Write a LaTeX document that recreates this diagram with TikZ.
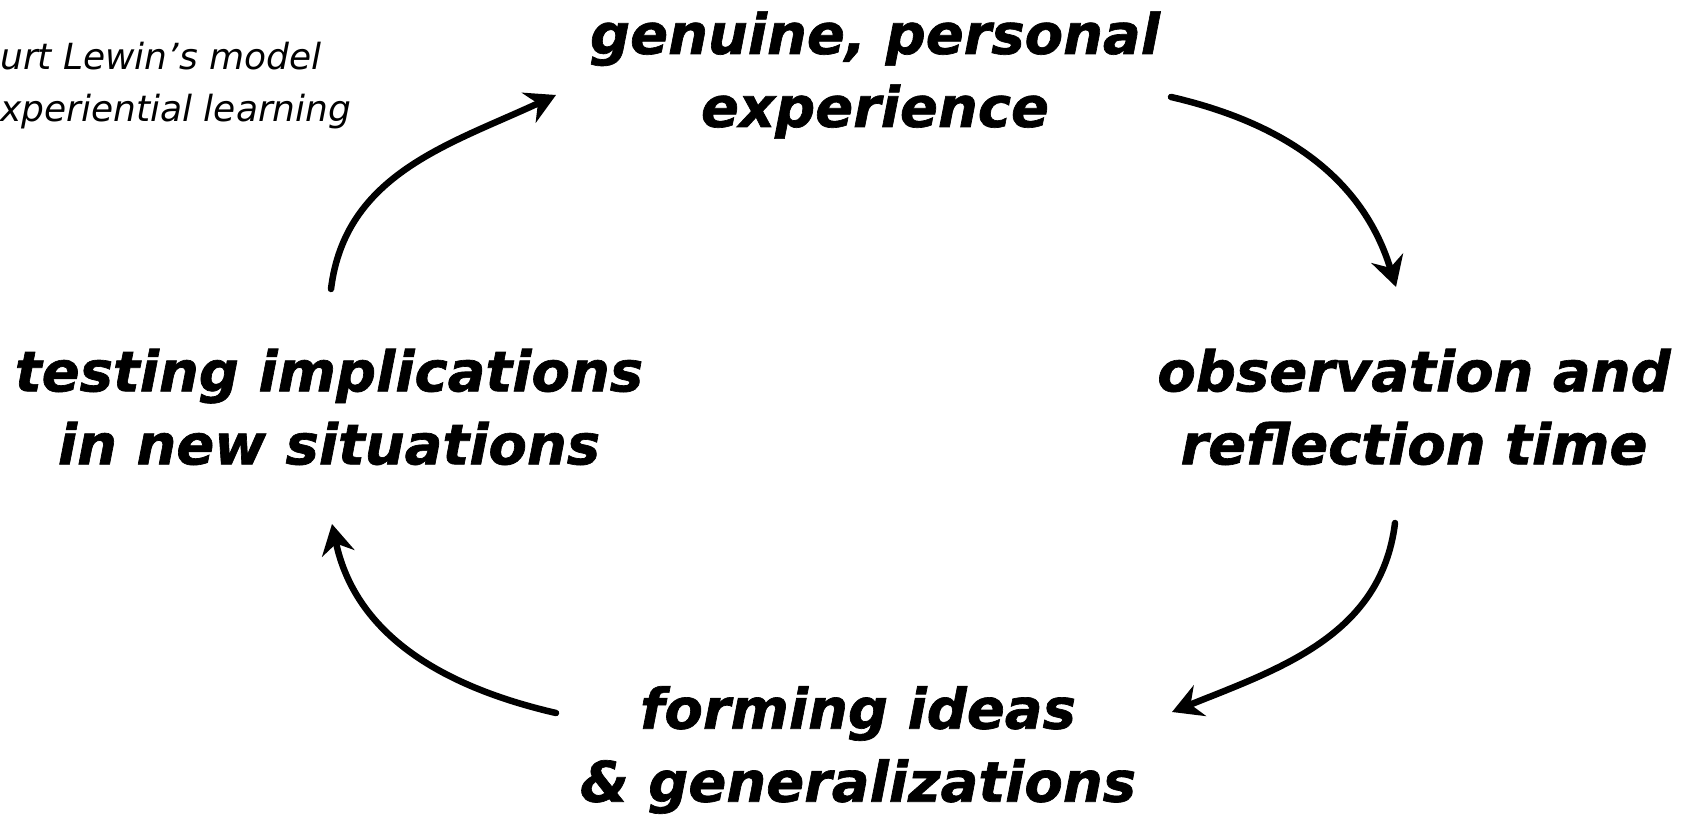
\documentclass[tikz,border=0pt]{standalone}
\usepackage{fontspec}
\setmainfont[BoldItalicFeatures={FakeBold=1.2}]{DejaVu Sans}
\usetikzlibrary{arrows.meta}
\tikzset{
	stage/.style={align=center,inner sep=0pt,font=\fontsize{56}{73}\selectfont\bfseries\itshape},
	cycle arrow/.style={line width=6.5pt,line cap=round,-{Stealth[length=30pt,width=33pt,inset=10pt]}}
}
\begin{document}
\begin{tikzpicture}[x=1pt,y=1pt]
		\useasboundingbox (0,0) rectangle (1693,821);
		\node [stage] (genuine) at (875,746) {genuine, personal\\experience};
		\node [stage] (test) at (329,414) {testing implications\\in new situations};
		\node [stage] (observe) at (1414,414) {observation and\\reflection time};
		\node [stage] (form) at (858,71) {forming ideas\\\& generalizations};
		\node [anchor=west,align=left,inner sep=0pt,font=\fontsize{36}{52}\selectfont\itshape] (note) at (0,735) {urt Lewin’s model\\xperiential learning};
		\draw [cycle arrow] ([shift={(2,118)}]test.center) to[out=83,in=205] ([shift={(-319,-20)}]genuine.center);
		\draw [cycle arrow] ([shift={(296,-22)}]genuine.center) to[out=-13,in=107] ([shift={(-18,120)}]observe.center);
		\draw [cycle arrow] ([shift={(-19,-116)}]observe.center) to[out=-97,in=22] ([shift={(314,38)}]form.center);
		\draw [cycle arrow] ([shift={(-302,37)}]form.center) to[out=167,in=-78] ([shift={(3,-117)}]test.center);
\end{tikzpicture}
\end{document}
